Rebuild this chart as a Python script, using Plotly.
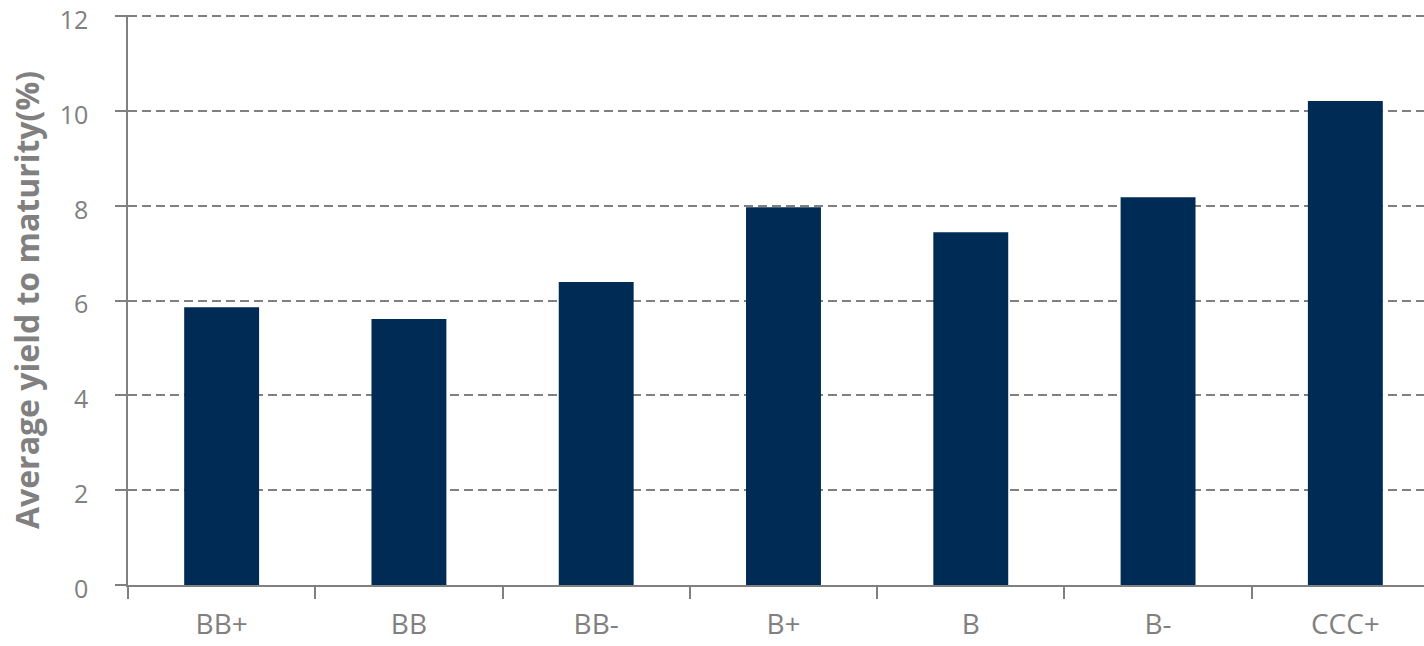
import plotly.graph_objects as go

categories = ["BB+", "BB", "BB-", "B+", "B", "B-", "CCC+"]
yields = [5.86, 5.61, 6.39, 7.97, 7.44, 8.18, 10.21]
y_ticks = [0, 2, 4, 6, 8, 10, 12]

GRAY = "#808080"
fig = go.Figure(go.Bar(x=categories, y=yields, width=0.4, marker_color="#002B54",
                       marker_line_width=0))
fig.update_layout(
    width=1424, height=646,
    margin=dict(l=128, r=0, t=15, b=61),
    plot_bgcolor="white", paper_bgcolor="white",
    font=dict(family="Open Sans", color=GRAY, size=22),
    showlegend=False,
    xaxis=dict(
        type="category", range=[-0.5, 6.42], tickson="boundaries", automargin=False,
        ticks="outside", ticklen=12, tickcolor=GRAY, tickwidth=1.5,
        showline=True, linecolor=GRAY, linewidth=1.5, showgrid=False,
        ticklabelstandoff=14, ticklabeloverflow="allow", tickfont=dict(size=28, color=GRAY),
    ),
    yaxis=dict(
        range=[0, 12.025], tickvals=y_ticks, ticks="outside", ticklen=11, automargin=False,
        tickcolor=GRAY, tickwidth=1.5, showline=True, linecolor=GRAY, linewidth=1.5,
        showgrid=True, gridcolor=GRAY, gridwidth=1.5, griddash="9px,5px",
        zeroline=False, ticklabelstandoff=22, ticklabeloverflow="allow", ticklabelshift=4,
        tickfont=dict(size=25, color=GRAY),
        title=dict(text="<b>Average yield to maturity(%)</b>", font=dict(size=32, color=GRAY),
                   standoff=10),
    ),
)
fig.write_html("out.html")
